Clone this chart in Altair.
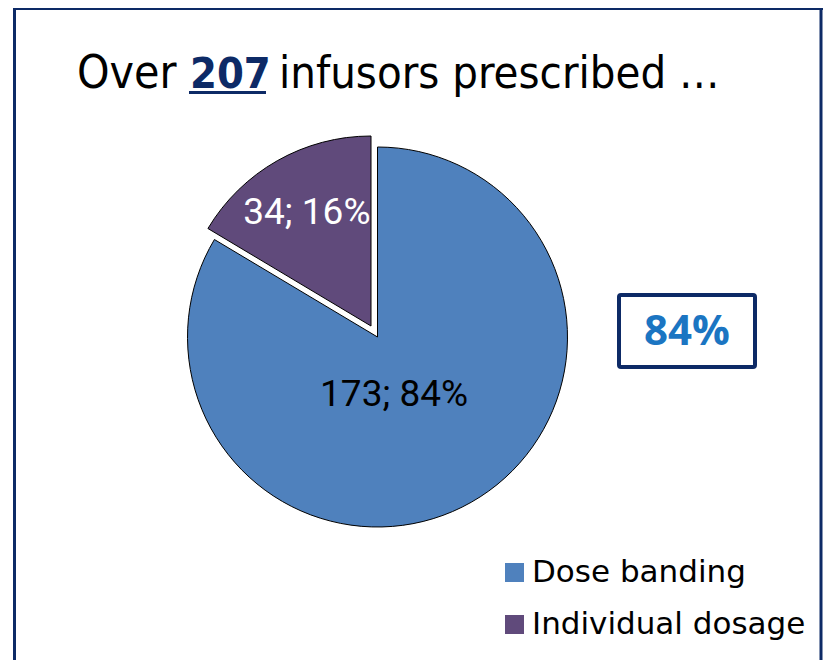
import altair as alt
import pandas as pd

# ---- data ----
categories = ["Dose banding", "Individual dosage"]
counts = [173, 34]
percents = [84, 16]
colors = ["#4f81bd", "#604a7b"]
title_parts = ["Over", "207", "infusors prescribed  …"]
highlight = "84%"

df = pd.DataFrame({"category": categories, "count": counts, "pct": percents})
df["label"] = df["count"].astype(str) + "; " + df["pct"].astype(str) + "%"

# ---- layout / style ----
W, H = 815, 652
CX, CY = 369.5, 329      # pie centre
EX, EY = 363, 318        # exploded slice centre
R = 190
NAVY = "#0d2a66"
TF = "Liberation Sans Narrow, DejaVu Sans Condensed, Liberation Sans, sans-serif"

is_main = alt.datum.category == categories[0]
theta = alt.Theta("count:Q", stack=True)
color = alt.Color(
    "category:N",
    scale=alt.Scale(domain=categories, range=colors),
    legend=alt.Legend(
        title=None, orient="none", legendX=491, legendY=549,
        symbolType="square", symbolSize=361, symbolStrokeWidth=0,
        labelFont="DejaVu Sans", labelFontSize=31, labelColor="#000",
        labelOffset=2, labelLimit=0, rowPadding=20, padding=0,
    ),
)

base = alt.Chart(df)
pie_main = base.mark_arc(radius=R, stroke="#000", strokeWidth=1).encode(
    theta=theta, color=color,
    opacity=alt.condition(is_main, alt.value(1), alt.value(0)),
    x=alt.value(CX), y=alt.value(CY),
)
pie_expl = base.mark_arc(radius=R, stroke="#000", strokeWidth=1).encode(
    theta=theta, color=color,
    opacity=alt.condition(is_main, alt.value(0), alt.value(1)),
    x=alt.value(EX), y=alt.value(EY),
)
lab_main = base.mark_text(radius=62, fontSize=37, font="Roboto", color="#000", dx=-14, dy=4).encode(
    theta=theta, detail="category:N", text="label:N",
    opacity=alt.condition(is_main, alt.value(1), alt.value(0)),
    x=alt.value(CX), y=alt.value(CY),
)
lab_expl = base.mark_text(radius=130, fontSize=37, font="Roboto", color="#ffffff").encode(
    theta=theta, detail="category:N", text="label:N",
    opacity=alt.condition(is_main, alt.value(0), alt.value(1)),
    x=alt.value(EX), y=alt.value(EY),
)

ann = alt.Chart(pd.DataFrame({"k": [0]}))
t1 = ann.mark_text(align="left", baseline="alphabetic", font=TF, fontSize=46, color="#000").encode(
    x=alt.value(69), y=alt.value(80), text=alt.value(title_parts[0]))
t2 = ann.mark_text(align="left", baseline="alphabetic", font=TF, fontSize=43, fontWeight="bold", color=NAVY).encode(
    x=alt.value(182), y=alt.value(80), text=alt.value(title_parts[1]))
t3 = ann.mark_text(align="left", baseline="alphabetic", font=TF, fontSize=45, color="#000").encode(
    x=alt.value(271), y=alt.value(80), text=alt.value(title_parts[2]))
underline = ann.mark_rule(color=NAVY, strokeWidth=3).encode(
    x=alt.value(181), x2=alt.value(258), y=alt.value(84.5))

box = ann.mark_rect(fill="#ffffff", stroke=NAVY, strokeWidth=4, cornerRadius=2).encode(
    x=alt.value(611), x2=alt.value(747), y=alt.value(287), y2=alt.value(359))
box_txt = ann.mark_text(font="Open Sans", fontSize=42, fontWeight="bold", color="#1b75c2",
                        align="center", baseline="middle").encode(
    x=alt.value(679), y=alt.value(324), text=alt.value(highlight))

b_left = ann.mark_rule(color=NAVY, strokeWidth=3).encode(
    x=alt.value(6.5), y=alt.value(0), y2=alt.value(H))
b_top = ann.mark_rule(color=NAVY, strokeWidth=3).encode(
    x=alt.value(5), x2=alt.value(W), y=alt.value(0.5))
b_right = ann.mark_rule(color=NAVY, strokeWidth=3).encode(
    x=alt.value(813), y=alt.value(0), y2=alt.value(H))

chart = alt.layer(
    b_left, b_top, b_right,
    pie_main, pie_expl, lab_main, lab_expl,
    t1, t2, t3, underline, box, box_txt,
).properties(
    width=W, height=H, padding=0, autosize="none", background="#ffffff"
).configure_view(stroke=None)

chart.save("out.html", embed_options={"renderer": "svg", "actions": False})
